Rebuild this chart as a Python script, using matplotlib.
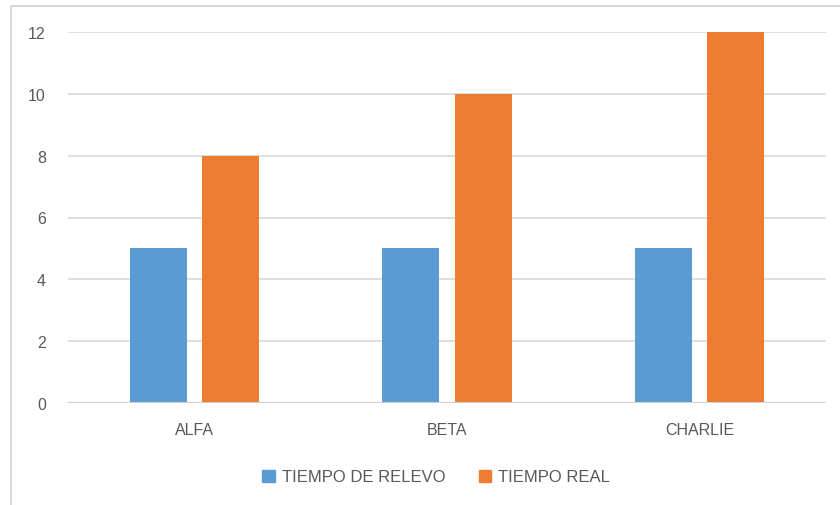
import matplotlib.pyplot as plt
import numpy as np
from matplotlib.lines import Line2D
from matplotlib.patches import Patch

categorias = ["ALFA", "BETA", "CHARLIE"]
tiempo_relevo = [5, 5, 5]
tiempo_real = [8, 10, 12]
series = ["TIEMPO DE RELEVO", "TIEMPO REAL"]

azul = "#5B9BD5"
naranja = "#ED7D31"
gris_texto = "#595959"

plt.rcParams['font.family'] = ['Liberation Sans', 'DejaVu Sans']

fig = plt.figure(figsize=(8.4, 5.06), dpi=100)
ax = fig.add_axes([68/840, 1-404/506, (826-68)/840, (404-33)/506])

x = np.arange(len(categorias))
w = 0.225
ax.bar(x - 0.143, tiempo_relevo, w, color=azul, zorder=3)
ax.bar(x + 0.143, tiempo_real, w, color=naranja, zorder=3)

ax.set_xlim(-0.5, len(categorias) - 0.5)
ax.set_ylim(0, 12)
ax.set_yticks(range(0, 13, 2))
ax.set_xticks(x)
ax.set_xticklabels(categorias)
ax.grid(axis='y', color="#d9d9d9", linewidth=1.2, zorder=0)
ax.tick_params(length=0, colors=gris_texto, labelsize=11.5)
ax.tick_params(axis='y', pad=16)
ax.tick_params(axis='x', pad=14)
for s in ax.spines.values():
    s.set_visible(False)
ax.axhline(0, color="#d0d0d0", linewidth=1.5, zorder=4)

handles = [Patch(color=azul), Patch(color=naranja)]
fig.legend(handles, series, loc='center', bbox_to_anchor=(436/840, 1-478/506),
           ncol=2, frameon=False, fontsize=12, labelcolor=gris_texto,
           handlelength=0.75, handleheight=0.75, handletextpad=0.4, columnspacing=2.0)

# marco del gráfico
fig.add_artist(Line2D([11/840, 11/840], [0, 1-7/506], color="#d9d9d9", linewidth=1.5))
fig.add_artist(Line2D([11/840, 1], [1-7/506, 1-7/506], color="#d9d9d9", linewidth=1.5))

fig.savefig("out.png", dpi=100)
